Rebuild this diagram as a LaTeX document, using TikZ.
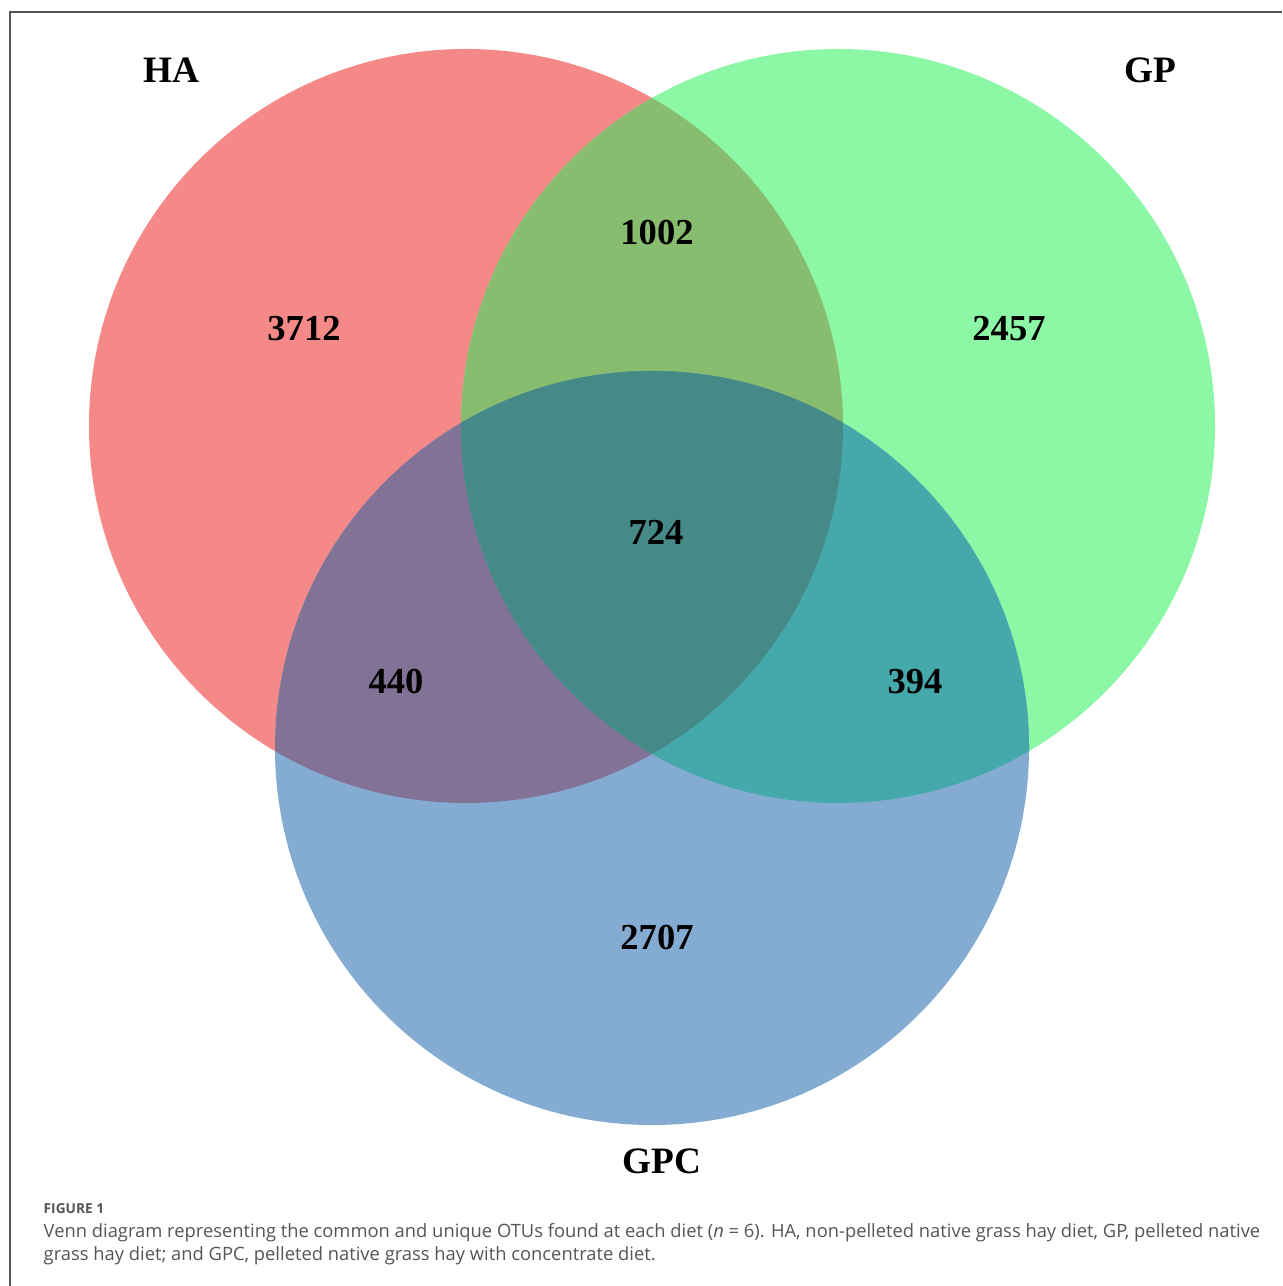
\documentclass[tikz,border=0pt]{standalone}
\usepackage{fontspec}
\setmainfont{Liberation Serif}
\newfontfamily\capfont{Open Sans}
\definecolor{hacol}{RGB}{244,137,135}
\definecolor{gpcol}{RGB}{140,248,166}
\definecolor{gpccol}{RGB}{132,172,210}
\definecolor{abcol}{RGB}{136,188,110}
\definecolor{accol}{RGB}{130,114,150}
\definecolor{bccol}{RGB}{69,169,171}
\definecolor{abccol}{RGB}{70,138,136}
\definecolor{capgray}{RGB}{85,85,85}
\tikzset{
  num/.style={font=\bfseries\fontsize{10.4}{12}\selectfont, inner sep=0pt},
  setlabel/.style={font=\bfseries\fontsize{10.6}{12}\selectfont, inner sep=0pt},
  captext/.style={font=\capfont\fontsize{5.22}{6}\selectfont, text=capgray, inner sep=0pt, anchor=base west},
  figlabel/.style={font=\capfont\bfseries\fontsize{3.9}{5}\selectfont, text=capgray, inner sep=0pt, anchor=base west},
}
\begin{document}
\begin{tikzpicture}[x=0.01cm,y=-0.01cm]
\useasboundingbox (0,0) rectangle (1282,1286);
\fill[white] (0,0) rectangle (1282,1286);
\draw[capgray, line width=0.5pt] (10,1286) -- (10,12) -- (1282,12);
\def\ca{(466,426) circle (377)}
\def\cb{(838,426) circle (377)}
\def\cc{(652,748) circle (377)}
\fill[hacol] \ca;
\fill[gpcol] \cb;
\fill[gpccol] \cc;
\begin{scope}\clip \ca; \fill[abcol] \cb; \end{scope}
\begin{scope}\clip \ca; \fill[accol] \cc; \end{scope}
\begin{scope}\clip \cb; \fill[bccol] \cc; \end{scope}
\begin{scope}\clip \ca; \clip \cb; \fill[abccol] \cc; \end{scope}
\node[setlabel] (ha) at (171,70) {HA};
\node[setlabel] (gp) at (1150,70) {GP};
\node[setlabel] (gpc) at (662,1161) {GPC};
\node[num] (a) at (304,329) {3712};
\node[num] (ab) at (657,233) {1002};
\node[num] (b) at (1009,329) {2457};
\node[num] (abc) at (656,532) {724};
\node[num] (ac) at (396,682) {440};
\node[num] (bc) at (915,682) {394};
\node[num] (c) at (657,938) {2707};
\node[figlabel] (fig) at (43,1213) {FIGURE 1};
\node[captext] (cap1) at (43,1237) {Venn diagram representing the common and unique OTUs found at each diet (\emph{n} = 6). HA, non-pelleted native grass hay diet, GP, pelleted native};
\node[captext] (cap2) at (43,1260) {grass hay diet; and GPC, pelleted native grass hay with concentrate diet.};
\end{tikzpicture}
\end{document}
